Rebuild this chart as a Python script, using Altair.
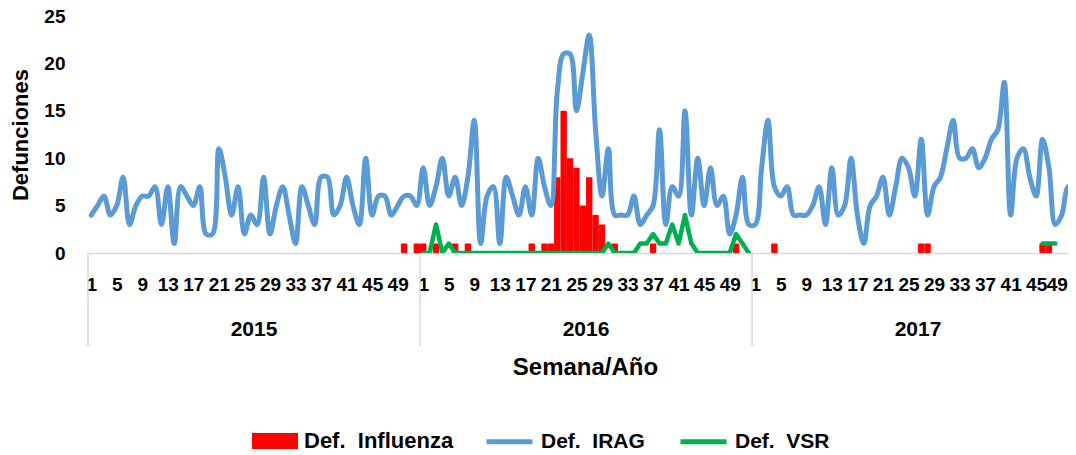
import altair as alt
import pandas as pd

FONT = "Liberation Sans"
WEEKS = 52

years = ["2015", "2016", "2017"]
week_labels = [1, 5, 9, 13, 17, 21, 25, 29, 33, 37, 41, 45, 49]
series_names = ["Def.\u00a0\u00a0Influenza", "Def.\u00a0\u00a0IRAG", "Def.\u00a0\u00a0VSR"]
series_colors = ["#FF0000", "#5B9BD5", "#00B050"]

irag_2015 = [4, 5, 6, 4, 5, 8, 3, 5, 6, 6, 7, 3, 7, 1, 7, 6, 5, 7, 2, 2, 11, 8, 4, 7, 2, 4,
             3, 8, 2, 5, 7, 4, 1, 7, 5, 3, 8, 8, 4, 5, 8, 5, 3, 10, 4, 6, 6, 4, 5, 6, 6, 5]
irag_2016 = [9, 5, 7, 10, 6, 8, 5, 8, 14, 1, 6, 7, 1, 8, 6, 4, 7, 4, 10, 7, 5, 17, 21, 21, 15, 19,
             23, 13, 6, 11, 4, 4, 4, 6, 3, 4, 5, 13, 3, 7, 6, 15, 4, 10, 5, 9, 5, 6, 2, 4, 8, 3]
irag_2017 = [3, 9, 14, 7, 6, 7, 4, 4, 4, 5, 7, 3, 9, 4, 5, 10, 4, 1, 5, 6, 8, 4, 7, 10, 9, 6,
             12, 4, 7, 8, 11, 14, 10, 10, 11, 9, 10, 12, 13, 18, 4, 10, 11, 8, 6, 12, 9, 3, 4, 7, 7, 5]

# influenza deaths: week -> value (other weeks 0)
flu_2015 = {50: 1, 52: 1}
flu_2016 = {1: 1, 3: 1, 6: 1, 8: 1, 18: 1, 20: 1, 21: 1, 22: 8, 23: 15, 24: 10, 25: 9,
            26: 5, 27: 8, 28: 4, 29: 3, 31: 1, 37: 1, 50: 1}
flu_2017 = {4: 1, 27: 1, 28: 1, 46: 1, 47: 1}

# VSR deaths (None = not reported)
vsr_2015 = [None] * 52
vsr_2016 = [0, 0, 3, 0, 1, 0, 0, 0, 0, 0, 0, 0, 0, 0, 0, 0, 0, 0, 0, 0, 0, 0, 0, 0, 0, 0,
            0, 0, 0, 1, 0, 0, 0, 0, 1, 1, 2, 1, 1, 3, 1, 4, 1, 0, 0, 0, 0, 0, 0, 2, 1, 0]
vsr_2017 = [None] * 45 + [1, 1, 1] + [None] * 4

irag_all = [irag_2015, irag_2016, irag_2017]
flu_all = [flu_2015, flu_2016, flu_2017]
vsr_all = [vsr_2015, vsr_2016, vsr_2017]

irag_rows, flu_rows, vsr_rows = [], [], []
for yi in range(len(years)):
    for w in range(1, WEEKS + 1):
        pos = yi * WEEKS + w - 0.5
        irag_rows.append({"pos": pos, "value": irag_all[yi][w - 1], "series": series_names[1]})
        fv = flu_all[yi].get(w, 0)
        if fv > 0:
            flu_rows.append({"start": pos - 0.5, "end": pos + 0.5, "value": fv, "base": 0,
                             "series": series_names[0]})
        vv = vsr_all[yi][w - 1]
        if vv is not None:
            vsr_rows.append({"pos": pos, "value": vv, "seg": years[yi], "series": series_names[2]})

irag_df = pd.DataFrame(irag_rows)
flu_df = pd.DataFrame(flu_rows)
vsr_df = pd.DataFrame(vsr_rows)
year_df = pd.DataFrame({"pos": [yi * WEEKS + WEEKS / 2 for yi in range(len(years))], "label": years})
sep_df = pd.DataFrame({"pos": [yi * WEEKS for yi in range(len(years))]})
tick_positions = [yi * WEEKS + w - 0.5 for yi in range(len(years)) for w in week_labels]

PX_PER_WEEK = 6.385
PLOT_W = 980
PLOT_H = 237
x_scale = alt.Scale(domain=[0, PLOT_W / PX_PER_WEEK], nice=False, zero=False)
y_scale = alt.Scale(domain=[0, 25], nice=False)

x_axis = alt.Axis(
    values=tick_positions, labelExpr="format((datum.value + 0.5) % 52, 'd')",
    title="Semana/Año", titleX=497, titleY=114, titleAlign="center", titleBaseline="middle",
    labelPadding=31, labelBaseline="middle", ticks=False, grid=False,
    labelOffset={"condition": {"test": "datum.value > 150", "value": -5}, "value": 0},
    domainColor="#D9D9D9", domainWidth=1.5, labelOverlap=False, labelFlush=False,
    labelFont=FONT, labelFontSize=19, labelFontWeight="bold", labelColor="black",
    titleFont=FONT, titleFontSize=24, titleFontWeight="bold", titleColor="black",
)
y_axis = alt.Axis(
    values=[0, 5, 10, 15, 20, 25], domain=False, ticks=False, grid=False, labelPadding=23,
    labelFont=FONT, labelFontSize=19, labelFontWeight="bold", labelColor="black",
    title="Defunciones", titleX=-68, titleY=PLOT_H / 2, titleAngle=270, titleAlign="center",
    titleBaseline="middle", titleFont=FONT, titleFontSize=22, titleFontWeight="bold",
    titleColor="black",
)

legend_common = dict(
    title=None, orient="none", direction="horizontal", symbolSize=2116,
    labelFont=FONT, labelFontWeight="bold", labelColor="black",
    labelOffset=6, columnPadding=25, labelLimit=400, symbolOpacity=1,
)
fill_enc = alt.Fill(
    "series:N", scale=alt.Scale(domain=series_names[:1], range=series_colors[:1]),
    legend=alt.Legend(legendX=164, legendY=402, symbolType="M-1,-0.35H1V0.35H-1Z",
                      symbolStrokeWidth=0, labelFontSize=22, **legend_common),
)
stroke_enc = alt.Stroke(
    "series:N", scale=alt.Scale(domain=series_names[1:], range=series_colors[1:]),
    legend=alt.Legend(legendX=396, legendY=400, symbolType="stroke", symbolStrokeWidth=5,
                      labelFontSize=21, **legend_common),
)

bars = alt.Chart(flu_df).mark_rect(clip=True, cornerRadius=1).encode(
    x=alt.X("start:Q", scale=x_scale, axis=x_axis),
    x2="end:Q",
    y=alt.Y("value:Q", scale=y_scale, axis=y_axis),
    y2="base:Q",
    fill=fill_enc,
)
irag = alt.Chart(irag_df).mark_line(
    interpolate="catmull-rom", strokeWidth=5, strokeCap="round", strokeJoin="round", clip=True
).encode(
    x=alt.X("pos:Q", scale=x_scale, axis=x_axis),
    y=alt.Y("value:Q", scale=y_scale, axis=y_axis),
    stroke=stroke_enc,
)
vsr = alt.Chart(vsr_df).mark_line(
    strokeWidth=4.5, strokeCap="round", strokeJoin="round", clip=True
).encode(
    x=alt.X("pos:Q", scale=x_scale, axis=x_axis),
    y=alt.Y("value:Q", scale=y_scale, axis=y_axis),
    stroke=stroke_enc,
    detail="seg:N",
)
seps = alt.Chart(sep_df).mark_rule(color="#D9D9D9", strokeWidth=1.5).encode(
    x=alt.X("pos:Q", scale=x_scale, axis=x_axis),
    y=alt.value(PLOT_H),
    y2=alt.value(PLOT_H + 93),
)
year_text = alt.Chart(year_df).mark_text(
    font=FONT, fontSize=21, fontWeight="bold", color="black", baseline="middle"
).encode(
    x=alt.X("pos:Q", scale=x_scale, axis=x_axis),
    y=alt.value(PLOT_H + 77),
    text="label:N",
)

chart = alt.layer(seps, bars, irag, vsr, year_text).properties(
    width=PLOT_W, height=PLOT_H,
    autosize=alt.AutoSizeParams(type="none"),
    padding={"left": 80, "top": 8, "right": 0, "bottom": 202},
).configure_view(stroke=None)

chart.save("out.html", embed_options={"renderer": "svg", "actions": False})
